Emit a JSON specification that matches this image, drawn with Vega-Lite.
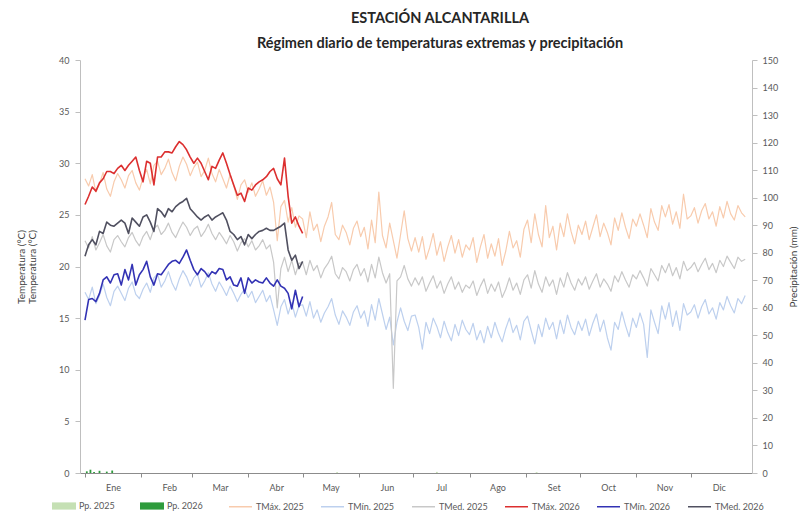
{
  "$schema": "https://vega.github.io/schema/vega-lite/v6.json",
  "width": 672,
  "height": 413,
  "autosize": {"type": "none"},
  "padding": {"left": 80, "top": 60, "right": 51, "bottom": 46},
  "background": "white",
  "config": {
    "font": "Lato",
    "view": {"stroke": null},
    "axis": {"grid": false, "domainColor": "#bfbfbf", "tickColor": "#bfbfbf", "labelColor": "#595959", "labelFontSize": 9, "titleColor": "#404040", "titleFontSize": 10, "titleFontWeight": "normal"},
    "legend": {"labelColor": "#595959", "labelFontSize": 9, "title": null, "direction": "horizontal", "orient": "none"}
  },
  "title": {
    "text": ["ESTACIÓN ALCANTARILLA", "Régimen diario de temperaturas extremas y precipitación"],
    "fontSize": 14.5,
    "fontWeight": "bold",
    "color": "#262626",
    "lineHeight": 25,
    "offset": 5,
    "dx": 24,
    "anchor": "middle"
  },
  "datasets": {
    "temp": [
      {"dia":1,"mx25":28.5,"mn25":17.5,"md25":22.5,"mx26":26.0,"mn26":14.8,"md26":21.0},
      {"dia":3,"mx25":27.8,"mn25":16.8,"md25":21.8,"mx26":26.8,"mn26":16.8,"md26":22.1},
      {"dia":5,"mx25":28.9,"mn25":18.0,"md25":22.9,"mx26":27.7,"mn26":16.9,"md26":22.6},
      {"dia":7,"mx25":27.2,"mn25":16.4,"md25":21.6,"mx26":27.3,"mn26":16.6,"md26":22.1},
      {"dia":9,"mx25":28.0,"mn25":17.2,"md25":22.3,"mx26":28.1,"mn26":17.4,"md26":23.4},
      {"dia":11,"mx25":29.1,"mn25":18.3,"md25":23.1,"mx26":28.5,"mn26":18.7,"md26":23.2},
      {"dia":13,"mx25":27.5,"mn25":17.0,"md25":22.0,"mx26":29.2,"mn26":19.0,"md26":24.3},
      {"dia":15,"mx25":26.8,"mn25":16.2,"md25":21.4,"mx26":29.2,"mn26":18.4,"md26":24.0},
      {"dia":17,"mx25":28.2,"mn25":17.6,"md25":22.6,"mx26":29.0,"mn26":19.2,"md26":23.9},
      {"dia":19,"mx25":29.0,"mn25":18.1,"md25":23.0,"mx26":29.5,"mn26":19.3,"md26":24.2},
      {"dia":21,"mx25":28.4,"mn25":17.4,"md25":22.4,"mx26":29.8,"mn26":18.2,"md26":24.5},
      {"dia":23,"mx25":27.6,"mn25":16.7,"md25":21.9,"mx26":29.3,"mn26":19.7,"md26":24.2},
      {"dia":25,"mx25":28.8,"mn25":17.9,"md25":22.8,"mx26":29.8,"mn26":18.7,"md26":23.2},
      {"dia":27,"mx25":29.3,"mn25":18.5,"md25":23.3,"mx26":30.2,"mn26":20.2,"md26":24.7},
      {"dia":29,"mx25":28.1,"mn25":17.3,"md25":22.5,"mx26":30.6,"mn26":18.2,"md26":24.3},
      {"dia":31,"mx25":27.4,"mn25":16.9,"md25":22.0,"mx26":29.3,"mn26":19.2,"md26":23.9},
      {"dia":33,"mx25":28.6,"mn25":17.8,"md25":22.9,"mx26":28.2,"mn26":19.7,"md26":24.8},
      {"dia":35,"mx25":29.4,"mn25":18.4,"md25":23.4,"mx26":30.2,"mn26":20.5,"md26":25.0},
      {"dia":37,"mx25":28.0,"mn25":17.5,"md25":22.6,"mx26":30.0,"mn26":19.0,"md26":24.3},
      {"dia":39,"mx25":29.8,"mn25":18.9,"md25":23.7,"mx26":27.9,"mn26":18.2,"md26":23.4},
      {"dia":41,"mx25":30.2,"mn25":19.3,"md25":24.0,"mx26":30.6,"mn26":19.3,"md26":25.6},
      {"dia":43,"mx25":28.9,"mn25":18.0,"md25":23.1,"mx26":30.6,"mn26":19.2,"md26":25.3},
      {"dia":45,"mx25":29.5,"mn25":18.6,"md25":23.5,"mx26":31.1,"mn26":19.7,"md26":24.8},
      {"dia":47,"mx25":30.4,"mn25":19.5,"md25":24.2,"mx26":31.1,"mn26":20.2,"md26":25.6},
      {"dia":49,"mx25":29.1,"mn25":18.4,"md25":23.3,"mx26":31.0,"mn26":20.5,"md26":25.3},
      {"dia":51,"mx25":28.3,"mn25":17.7,"md25":22.8,"mx26":31.6,"mn26":20.6,"md26":25.8},
      {"dia":53,"mx25":29.7,"mn25":18.8,"md25":23.6,"mx26":32.1,"mn26":20.3,"md26":26.1},
      {"dia":55,"mx25":30.6,"mn25":19.6,"md25":24.3,"mx26":31.8,"mn26":20.9,"md26":26.3},
      {"dia":57,"mx25":29.9,"mn25":19.0,"md25":23.8,"mx26":31.3,"mn26":21.6,"md26":26.6},
      {"dia":59,"mx25":28.8,"mn25":18.1,"md25":23.0,"mx26":30.6,"mn26":20.6,"md26":25.6},
      {"dia":61,"mx25":29.6,"mn25":18.9,"md25":23.6,"mx26":30.0,"mn26":19.7,"md26":25.2},
      {"dia":63,"mx25":30.1,"mn25":19.3,"md25":23.9,"mx26":30.5,"mn26":19.2,"md26":24.8},
      {"dia":65,"mx25":28.7,"mn25":18.0,"md25":22.9,"mx26":30.0,"mn26":19.8,"md26":24.5},
      {"dia":67,"mx25":29.3,"mn25":18.6,"md25":23.4,"mx26":29.2,"mn26":19.5,"md26":24.8},
      {"dia":69,"mx25":30.5,"mn25":19.4,"md25":24.1,"mx26":28.4,"mn26":19.0,"md26":25.0},
      {"dia":71,"mx25":29.0,"mn25":18.3,"md25":23.2,"mx26":29.7,"mn26":19.5,"md26":24.5},
      {"dia":73,"mx25":28.2,"mn25":17.6,"md25":22.6,"mx26":29.5,"mn26":19.3,"md26":24.8},
      {"dia":75,"mx25":29.4,"mn25":18.5,"md25":23.3,"mx26":30.3,"mn26":19.8,"md26":25.0},
      {"dia":77,"mx25":28.5,"mn25":17.9,"md25":22.8,"mx26":31.0,"mn26":19.7,"md26":25.2},
      {"dia":79,"mx25":27.6,"mn25":17.2,"md25":22.2,"mx26":30.0,"mn26":18.7,"md26":24.5},
      {"dia":81,"mx25":28.9,"mn25":18.1,"md25":23.0,"mx26":28.9,"mn26":19.0,"md26":23.4},
      {"dia":83,"mx25":27.8,"mn25":17.4,"md25":22.4,"mx26":27.9,"mn26":18.2,"md26":23.1},
      {"dia":85,"mx25":26.5,"mn25":16.6,"md25":21.5,"mx26":26.9,"mn26":18.1,"md26":22.6},
      {"dia":87,"mx25":27.9,"mn25":17.3,"md25":22.3,"mx26":27.1,"mn26":18.9,"md26":22.9},
      {"dia":89,"mx25":28.4,"mn25":17.8,"md25":22.7,"mx26":26.3,"mn26":17.4,"md26":22.1},
      {"dia":91,"mx25":27.2,"mn25":17.0,"md25":21.9,"mx26":27.6,"mn26":18.9,"md26":23.1},
      {"dia":93,"mx25":28.1,"mn25":17.6,"md25":22.5,"mx26":27.4,"mn26":18.4,"md26":22.7},
      {"dia":95,"mx25":26.8,"mn25":16.5,"md25":21.6,"mx26":27.9,"mn26":18.7,"md26":23.1},
      {"dia":97,"mx25":27.5,"mn25":17.1,"md25":22.0,"mx26":28.2,"mn26":18.5,"md26":23.4},
      {"dia":99,"mx25":28.3,"mn25":17.7,"md25":22.6,"mx26":28.4,"mn26":18.4,"md26":23.5},
      {"dia":101,"mx25":26.9,"mn25":16.6,"md25":21.7,"mx26":28.7,"mn26":18.9,"md26":23.7},
      {"dia":103,"mx25":27.7,"mn25":17.2,"md25":22.1,"mx26":29.2,"mn26":18.4,"md26":23.5},
      {"dia":105,"mx25":26.2,"mn25":15.8,"md25":20.4,"mx26":29.5,"mn26":18.1,"md26":23.5},
      {"dia":107,"mx25":22.5,"mn25":14.3,"md25":16.0,"mx26":28.5,"mn26":18.7,"md26":23.7},
      {"dia":109,"mx25":25.8,"mn25":16.1,"md25":19.8,"mx26":27.9,"mn26":18.1,"md26":23.9},
      {"dia":111,"mx25":26.4,"mn25":16.8,"md25":20.9,"mx26":30.5,"mn26":17.9,"md26":24.2},
      {"dia":113,"mx25":24.3,"mn25":15.4,"md25":19.5,"mx26":26.8,"mn26":17.4,"md26":21.6},
      {"dia":115,"mx25":25.7,"mn25":16.5,"md25":20.6,"mx26":24.2,"mn26":15.9,"md26":20.6},
      {"dia":117,"mx25":23.8,"mn25":15.1,"md25":19.2,"mx26":24.8,"mn26":17.7,"md26":21.1},
      {"dia":119,"mx25":24.9,"mn25":16.2,"md25":20.3,"mx26":23.9,"mn26":16.1,"md26":19.8},
      {"dia":121,"mx25":24.6,"mn25":16.3,"md25":20.4,"mx26":23.2,"mn26":17.1,"md26":20.5},
      {"dia":123,"mx25":22.8,"mn25":15.2,"md25":19.2},
      {"dia":125,"mx25":25.3,"mn25":16.6,"md25":20.6},
      {"dia":127,"mx25":23.5,"mn25":15.0,"md25":19.6},
      {"dia":129,"mx25":24.1,"mn25":15.8,"md25":20.1},
      {"dia":131,"mx25":22.4,"mn25":14.6,"md25":18.9},
      {"dia":133,"mx25":23.9,"mn25":15.5,"md25":19.8},
      {"dia":135,"mx25":24.8,"mn25":16.1,"md25":20.3},
      {"dia":137,"mx25":26.2,"mn25":16.9,"md25":21.0},
      {"dia":139,"mx25":23.1,"mn25":15.3,"md25":19.3},
      {"dia":141,"mx25":22.6,"mn25":14.4,"md25":18.8},
      {"dia":143,"mx25":24.0,"mn25":15.7,"md25":19.9},
      {"dia":145,"mx25":23.3,"mn25":15.1,"md25":19.5},
      {"dia":147,"mx25":22.1,"mn25":14.3,"md25":18.6},
      {"dia":149,"mx25":23.7,"mn25":15.6,"md25":19.7},
      {"dia":151,"mx25":24.4,"mn25":16.2,"md25":20.2},
      {"dia":153,"mx25":22.9,"mn25":15.0,"md25":19.1},
      {"dia":155,"mx25":23.8,"mn25":15.7,"md25":19.8},
      {"dia":157,"mx25":21.7,"mn25":14.2,"md25":18.5},
      {"dia":159,"mx25":24.5,"mn25":16.3,"md25":20.2},
      {"dia":161,"mx25":22.3,"mn25":14.8,"md25":18.9},
      {"dia":163,"mx25":27.2,"mn25":16.9,"md25":20.9},
      {"dia":165,"mx25":23.0,"mn25":15.4,"md25":19.4},
      {"dia":167,"mx25":21.8,"mn25":13.9,"md25":18.4},
      {"dia":169,"mx25":24.2,"mn25":15.1,"md25":19.3},
      {"dia":171,"mx25":22.5,"mn25":12.4,"md25":8.2},
      {"dia":173,"mx25":20.8,"mn25":14.6,"md25":18.6},
      {"dia":175,"mx25":23.1,"mn25":16.0,"md25":19.0},
      {"dia":177,"mx25":25.4,"mn25":14.7,"md25":20.1},
      {"dia":179,"mx25":22.7,"mn25":13.8,"md25":18.8},
      {"dia":181,"mx25":21.5,"mn25":15.2,"md25":18.1},
      {"dia":183,"mx25":22.8,"mn25":15.3,"md25":18.9},
      {"dia":185,"mx25":21.4,"mn25":14.1,"md25":18.2},
      {"dia":187,"mx25":22.9,"mn25":12.0,"md25":19.0},
      {"dia":189,"mx25":20.7,"mn25":14.6,"md25":17.6},
      {"dia":191,"mx25":21.8,"mn25":13.5,"md25":18.4},
      {"dia":193,"mx25":23.2,"mn25":15.0,"md25":19.1},
      {"dia":195,"mx25":21.1,"mn25":14.2,"md25":17.9},
      {"dia":197,"mx25":22.4,"mn25":13.1,"md25":18.6},
      {"dia":199,"mx25":20.5,"mn25":14.7,"md25":17.4},
      {"dia":201,"mx25":21.9,"mn25":13.6,"md25":18.3},
      {"dia":203,"mx25":23.0,"mn25":12.8,"md25":19.0},
      {"dia":205,"mx25":21.3,"mn25":14.4,"md25":17.8},
      {"dia":207,"mx25":22.6,"mn25":13.3,"md25":18.5},
      {"dia":209,"mx25":20.9,"mn25":14.8,"md25":17.5},
      {"dia":211,"mx25":22.1,"mn25":13.9,"md25":18.2},
      {"dia":213,"mx25":21.6,"mn25":13.4,"md25":17.9},
      {"dia":215,"mx25":22.8,"mn25":14.5,"md25":18.6},
      {"dia":217,"mx25":20.4,"mn25":12.9,"md25":17.2},
      {"dia":219,"mx25":21.9,"mn25":13.8,"md25":18.1},
      {"dia":221,"mx25":23.1,"mn25":12.6,"md25":18.8},
      {"dia":223,"mx25":20.8,"mn25":14.2,"md25":17.4},
      {"dia":225,"mx25":22.2,"mn25":13.1,"md25":18.3},
      {"dia":227,"mx25":21.0,"mn25":14.6,"md25":17.6},
      {"dia":229,"mx25":22.7,"mn25":13.5,"md25":18.5},
      {"dia":231,"mx25":20.1,"mn25":12.7,"md25":17.0},
      {"dia":233,"mx25":21.5,"mn25":14.0,"md25":17.8},
      {"dia":235,"mx25":23.4,"mn25":15.0,"md25":18.9},
      {"dia":237,"mx25":21.8,"mn25":13.6,"md25":17.7},
      {"dia":239,"mx25":22.5,"mn25":14.3,"md25":18.4},
      {"dia":241,"mx25":20.9,"mn25":12.9,"md25":17.3},
      {"dia":243,"mx25":23.6,"mn25":14.7,"md25":18.7},
      {"dia":245,"mx25":24.5,"mn25":15.2,"md25":19.2},
      {"dia":247,"mx25":22.3,"mn25":13.8,"md25":17.9},
      {"dia":249,"mx25":25.1,"mn25":12.5,"md25":19.6},
      {"dia":251,"mx25":23.1,"mn25":14.4,"md25":18.3},
      {"dia":253,"mx25":21.9,"mn25":13.2,"md25":17.5},
      {"dia":255,"mx25":25.9,"mn25":15.0,"md25":19.0},
      {"dia":257,"mx25":22.8,"mn25":13.9,"md25":18.1},
      {"dia":259,"mx25":23.9,"mn25":14.6,"md25":18.7},
      {"dia":261,"mx25":21.6,"mn25":13.0,"md25":17.3},
      {"dia":263,"mx25":24.2,"mn25":14.8,"md25":18.9},
      {"dia":265,"mx25":22.9,"mn25":13.5,"md25":18.0},
      {"dia":267,"mx25":25.1,"mn25":15.3,"md25":19.4},
      {"dia":269,"mx25":23.4,"mn25":14.1,"md25":18.4},
      {"dia":271,"mx25":22.2,"mn25":13.4,"md25":17.7},
      {"dia":273,"mx25":24.0,"mn25":14.7,"md25":18.8},
      {"dia":275,"mx25":23.1,"mn25":13.8,"md25":18.2},
      {"dia":277,"mx25":24.4,"mn25":14.9,"md25":19.0},
      {"dia":279,"mx25":22.6,"mn25":13.3,"md25":17.8},
      {"dia":281,"mx25":23.8,"mn25":14.5,"md25":18.6},
      {"dia":283,"mx25":25.0,"mn25":15.4,"md25":19.3},
      {"dia":285,"mx25":22.9,"mn25":13.7,"md25":18.0},
      {"dia":287,"mx25":24.2,"mn25":14.8,"md25":18.8},
      {"dia":289,"mx25":23.3,"mn25":13.1,"md25":18.3},
      {"dia":291,"mx25":22.1,"mn25":11.9,"md25":17.6},
      {"dia":293,"mx25":24.7,"mn25":14.6,"md25":19.1},
      {"dia":295,"mx25":23.5,"mn25":13.9,"md25":18.5},
      {"dia":297,"mx25":25.2,"mn25":15.6,"md25":19.5},
      {"dia":299,"mx25":23.8,"mn25":14.3,"md25":18.7},
      {"dia":301,"mx25":22.7,"mn25":13.2,"md25":18.0},
      {"dia":303,"mx25":24.6,"mn25":15.0,"md25":19.2},
      {"dia":305,"mx25":23.9,"mn25":14.1,"md25":18.8},
      {"dia":307,"mx25":25.1,"mn25":15.5,"md25":19.6},
      {"dia":309,"mx25":24.0,"mn25":14.4,"md25":18.9},
      {"dia":311,"mx25":22.8,"mn25":11.2,"md25":18.1},
      {"dia":313,"mx25":25.6,"mn25":15.8,"md25":19.8},
      {"dia":315,"mx25":24.3,"mn25":14.6,"md25":19.2},
      {"dia":317,"mx25":23.5,"mn25":13.5,"md25":18.6},
      {"dia":319,"mx25":25.9,"mn25":16.2,"md25":20.1},
      {"dia":321,"mx25":24.8,"mn25":14.9,"md25":19.4},
      {"dia":323,"mx25":26.0,"mn25":16.5,"md25":20.3},
      {"dia":325,"mx25":24.1,"mn25":14.2,"md25":19.1},
      {"dia":327,"mx25":25.3,"mn25":15.7,"md25":19.9},
      {"dia":329,"mx25":23.7,"mn25":13.8,"md25":18.8},
      {"dia":331,"mx25":27.0,"mn25":16.4,"md25":20.5},
      {"dia":333,"mx25":24.6,"mn25":15.3,"md25":19.6},
      {"dia":335,"mx25":24.9,"mn25":15.6,"md25":19.9},
      {"dia":337,"mx25":25.7,"mn25":16.3,"md25":20.4},
      {"dia":339,"mx25":24.2,"mn25":15.0,"md25":19.5},
      {"dia":341,"mx25":25.4,"mn25":16.1,"md25":20.2},
      {"dia":343,"mx25":26.1,"mn25":16.8,"md25":20.8},
      {"dia":345,"mx25":24.6,"mn25":15.4,"md25":19.7},
      {"dia":347,"mx25":25.3,"mn25":16.0,"md25":20.3},
      {"dia":349,"mx25":23.9,"mn25":14.9,"md25":19.4},
      {"dia":351,"mx25":25.8,"mn25":16.5,"md25":20.6},
      {"dia":353,"mx25":24.7,"mn25":15.8,"md25":20.0},
      {"dia":355,"mx25":26.3,"mn25":17.1,"md25":21.0},
      {"dia":357,"mx25":25.1,"mn25":16.2,"md25":20.4},
      {"dia":359,"mx25":24.5,"mn25":15.5,"md25":19.8},
      {"dia":361,"mx25":25.9,"mn25":16.9,"md25":20.9},
      {"dia":363,"mx25":25.2,"mn25":16.4,"md25":20.5},
      {"dia":365,"mx25":24.8,"mn25":17.2,"md25":20.7}
    ],
    "pp": [
      {"dia":2,"serie":"Pp. 2026","pp":0.6},
      {"dia":4,"serie":"Pp. 2026","pp":1.2},
      {"dia":6,"serie":"Pp. 2026","pp":0.4},
      {"dia":9,"serie":"Pp. 2026","pp":0.8},
      {"dia":13,"serie":"Pp. 2026","pp":0.5},
      {"dia":16,"serie":"Pp. 2026","pp":0.9},
      {"dia":140,"serie":"Pp. 2025","pp":0.3},
      {"dia":195,"serie":"Pp. 2025","pp":0.4},
      {"dia":250,"serie":"Pp. 2025","pp":0.3}
    ]
  },
  "layer": [
    {
      "data": {"name": "pp"},
      "mark": {"type": "bar", "width": 1.8},
      "encoding": {
        "x": {"field": "dia", "type": "quantitative", "scale": {"domain": [1, 366], "nice": false, "zero": false},
          "axis": {"title": null, "values": [1,32,60,91,121,152,182,213,244,274,305,335],
            "labelExpr": "['Ene','Feb','Mar','Abr','May','Jun','Jul','Ago','Set','Oct','Nov','Dic'][indexof([1,32,60,91,121,152,182,213,244,274,305,335], datum.value)]",
            "labelOffset": 28, "labelFlush": false, "labelOverlap": false, "tickSize": 4, "labelPadding": 6, "domainColor": "#8c8c8c", "tickColor": "#8c8c8c"}},
        "y": {"field": "pp", "type": "quantitative", "scale": {"domain": [0, 150], "nice": false},
          "axis": {"orient": "right", "title": "Precipitación (mm)", "titleAngle": -90, "titlePadding": 21, "values": [0,10,20,30,40,50,60,70,80,90,100,110,120,130,140,150], "tickSize": 5, "labelPadding": 5}},
        "fill": {"field": "serie", "type": "nominal", "scale": {"domain": ["Pp. 2025", "Pp. 2026"], "range": ["#c5e0b4", "#2e9b3c"]},
          "legend": {"legendX": -28, "legendY": 434, "symbolType": "M-1,-0.3H1V0.3H-1Z", "symbolSize": 576, "symbolStrokeWidth": 0, "columnPadding": 25, "labelOffset": 3}}
      }
    },
    {
      "data": {"name": "temp"},
      "transform": [
        {"fold": ["mx25", "mn25", "md25", "mx26", "mn26", "md26"], "as": ["serie", "t"]},
        {"filter": "datum.t != null"}
      ],
      "mark": {"type": "line", "strokeJoin": "round"},
      "encoding": {
        "x": {"field": "dia", "type": "quantitative"},
        "y": {"field": "t", "type": "quantitative", "scale": {"domain": [0, 40], "nice": false},
          "axis": {"orient": "left", "title": ["Temperatura (°C)", "Temperatura (°C)"], "titleLineHeight": 11, "titlePadding": 21, "values": [0,5,10,15,20,25,30,35,40], "tickSize": 5, "labelPadding": 6}},
        "stroke": {"field": "serie", "type": "nominal",
          "scale": {"domain": ["mx25", "mn25", "md25", "mx26", "mn26", "md26"], "range": ["#f8cbad", "#bdd0ee", "#c8c8c8", "#dc2f2f", "#3232b4", "#505060"]},
          "legend": {"legendX": 148, "legendY": 434, "symbolType": "stroke", "symbolSize": 530, "symbolStrokeWidth": 1.5, "columnPadding": 13, "labelOffset": 3,
            "labelExpr": "{'mx25':'TMáx. 2025','mn25':'TMín. 2025','md25':'TMed. 2025','mx26':'TMáx. 2026','mn26':'TMín. 2026','md26':'TMed. 2026'}[datum.label]"}},
        "strokeWidth": {"condition": {"test": "indexof(['mx26','mn26','md26'], datum.serie) >= 0", "value": 1.6}, "value": 1.2}
      }
    }
  ],
  "resolve": {"scale": {"y": "independent"}}
}
